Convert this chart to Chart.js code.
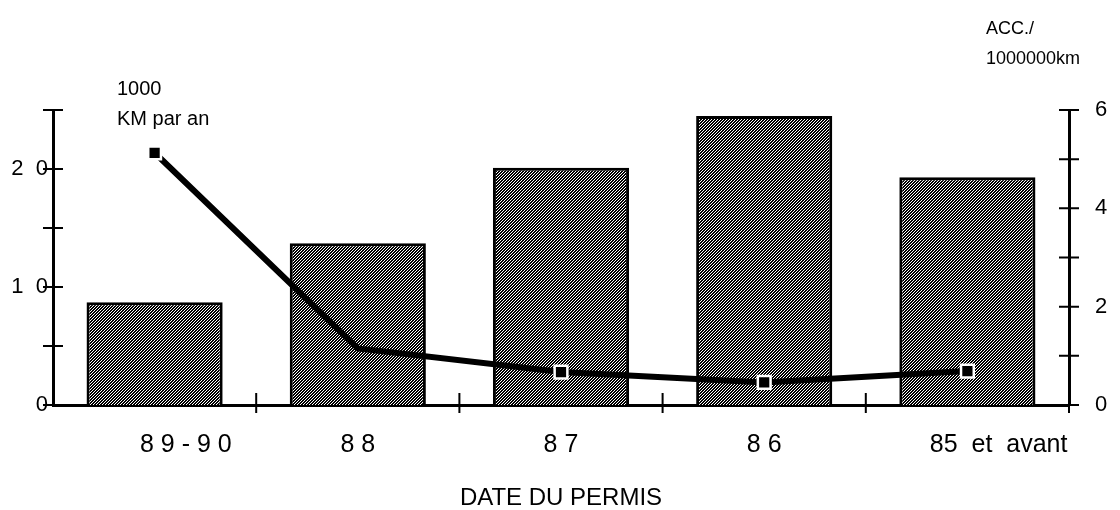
<!DOCTYPE html>
<html>
<head>
<meta charset="utf-8">
<script src="https://cdn.jsdelivr.net/npm/chart.js@4/dist/chart.umd.min.js"></script>
<style>
  html, body { margin: 0; padding: 0; background: #fff; }
  #wrap { position: relative; width: 1120px; height: 510px; }
  canvas { position: absolute; left: 0; top: 0; }
  .note { position: absolute; font-family: "Liberation Sans", Arial, sans-serif; color: #000; white-space: nowrap; }
</style>
</head>
<body>
<div id="wrap">
  <canvas id="c" width="1120" height="510"></canvas>
  <div class="note" style="left:117px; top:73px; font-size:20px; line-height:30px;">1000<br>KM par an</div>
  <div class="note" style="left:986px; top:13px; font-size:18px; line-height:30px;">ACC./<br>1000000km</div>
</div>
<script>
// ---- data ----
const categories = ['         8 9 - 9 0', '8 8', '8 7', '8 6', '         85  et  avant'];
const kmParAn = [8.7, 13.7, 20.1, 24.5, 19.3];               // thousands km per year (left axis)
const accidentsPerMillionKm = [5.13, 1.15, 0.67, 0.46, 0.69]; // right axis
const pointRadii = [9, 0, 9, 9, 9];
const leftTickLabels = { 0: '0', 10: '1  0', 20: '2  0' };
const rightTickLabels = { 0: '0', 2: '2', 4: '4', 6: '6' };

// ---- hatch pattern ----
function makePattern() {
  const p = document.createElement('canvas');
  p.width = 3; p.height = 3;
  const g = p.getContext('2d');
  g.fillStyle = '#fff';
  g.fillRect(0, 0, 3, 3);
  g.fillStyle = '#000';
  for (let x = 0; x < 3; x++) {
    for (let y = 0; y < 3; y++) {
      if ((x + y) % 3 < 2) g.fillRect(x, y, 1, 1);
    }
  }
  return g.createPattern(p, 'repeat');
}

const FONT = '"Liberation Sans", Arial, sans-serif';

const crossTicks = {
  id: 'crossTicks',
  afterDraw(chart) {
    const ctx = chart.ctx;
    const ca = chart.chartArea;
    ctx.save();
    ctx.strokeStyle = '#000';
    ctx.lineWidth = 2;
    ctx.beginPath();
    const y = chart.scales.y;
    y.ticks.forEach(t => {
      const py = y.getPixelForValue(t.value);
      ctx.moveTo(ca.left - 10, py); ctx.lineTo(ca.left + 10, py);
    });
    const y1 = chart.scales.y1;
    y1.ticks.forEach(t => {
      const py = y1.getPixelForValue(t.value);
      ctx.moveTo(ca.right - 10, py); ctx.lineTo(ca.right + 10, py);
    });
    const x = chart.scales.x;
    const n = categories.length;
    const w = (x.getPixelForValue(1) - x.getPixelForValue(0));
    for (let i = 1; i <= n; i++) {
      const px = x.getPixelForValue(i) - w / 2;
      ctx.moveTo(px, ca.bottom - 12); ctx.lineTo(px, ca.bottom + 8);
    }
    ctx.stroke();
    ctx.restore();
  }
};

new Chart(document.getElementById('c'), {
  type: 'bar',
  data: {
    labels: categories,
    datasets: [
      {
        type: 'line',
        data: accidentsPerMillionKm,
        yAxisID: 'y1',
        borderColor: '#000',
        borderWidth: 6,
        pointStyle: 'rect',
        pointRadius: pointRadii,
        pointBackgroundColor: '#000',
        pointBorderColor: '#fff',
        pointBorderWidth: 2.5,
        tension: 0,
        order: 0
      },
      {
        type: 'bar',
        data: kmParAn,
        yAxisID: 'y',
        backgroundColor: makePattern(),
        borderColor: '#000',
        borderWidth: 3,
        categoryPercentage: 1,
        barPercentage: 0.67,
        order: 1
      }
    ]
  },
  options: {
    responsive: false,
    animation: false,
    layout: { padding: { top: 110, left: 0, right: 0, bottom: 0 } },
    plugins: { legend: { display: false }, tooltip: { enabled: false } },
    scales: {
      x: {
        grid: { display: false, drawTicks: false },
        border: { display: true, color: '#000', width: 3 },
        ticks: { color: '#000', font: { family: FONT, size: 25 }, padding: 25, maxRotation: 0, autoSkip: false },
        title: { display: true, text: 'DATE DU PERMIS', color: '#000', font: { family: FONT, size: 24, lineHeight: 1 }, padding: { top: 0, bottom: 0 } },
        afterFit(s) { s.height = 105; }
      },
      y: {
        position: 'left',
        min: 0, max: 25,
        grid: { display: false, drawTicks: false },
        border: { display: true, color: '#000', width: 3 },
        ticks: { stepSize: 5, color: '#000', font: { family: FONT, size: 22 }, padding: 5,
                 callback: v => (v in leftTickLabels ? leftTickLabels[v] : '') },
        afterFit(s) { s.width = 53; }
      },
      y1: {
        position: 'right',
        min: 0, max: 6,
        grid: { display: false, drawTicks: false },
        border: { display: true, color: '#000', width: 3 },
        ticks: { stepSize: 1, color: '#000', font: { family: FONT, size: 22 }, padding: 26,
                 callback: v => (v in rightTickLabels ? rightTickLabels[v] : '') },
        afterFit(s) { s.width = 51; }
      }
    }
  },
  plugins: [crossTicks]
});
</script>
</body>
</html>
